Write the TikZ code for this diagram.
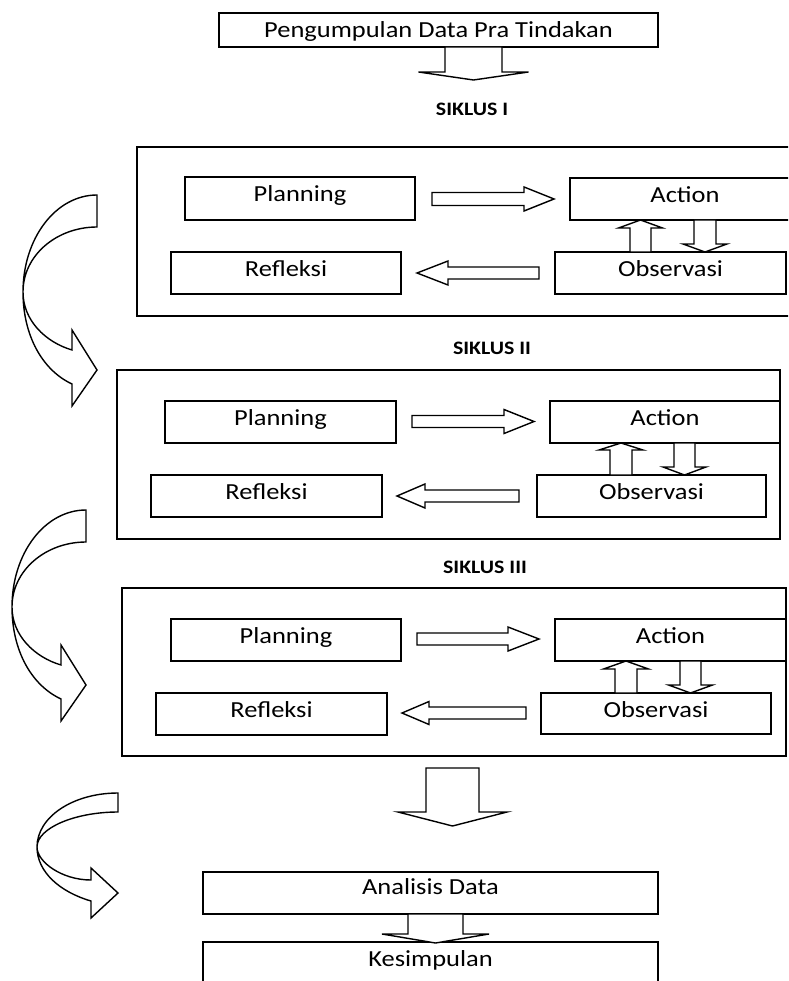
\documentclass[tikz,border=0pt]{standalone}
\usepackage{fontspec}
\newfontfamily\bodyfont[FakeStretch=1.15]{Carlito}
\newcommand{\rarrow}[6]{% xtail xtip y shafthalf headhalf headlen
 \draw[barrow] (#1,{#3-#4}) -- ({#2-#6},{#3-#4}) -- ({#2-#6},{#3-#5}) -- (#2,#3) -- ({#2-#6},{#3+#5}) -- ({#2-#6},{#3+#4}) -- (#1,{#3+#4}) -- cycle;}
\newcommand{\larrow}[6]{% xtip xtail y shafthalf headhalf headlen
 \draw[barrow] (#2,{#3-#4}) -- ({#1+#6},{#3-#4}) -- ({#1+#6},{#3-#5}) -- (#1,#3) -- ({#1+#6},{#3+#5}) -- ({#1+#6},{#3+#4}) -- (#2,{#3+#4}) -- cycle;}
\newcommand{\darrow}[6]{% x ytail ytip shafthalf headhalf headlen
 \draw[barrow] ({#1-#4},#2) -- ({#1-#4},{#3-#6}) -- ({#1-#5},{#3-#6}) -- (#1,#3) -- ({#1+#5},{#3-#6}) -- ({#1+#4},{#3-#6}) -- ({#1+#4},#2) -- cycle;}
\newcommand{\uarrow}[6]{% x ytail ytip shafthalf headhalf headlen
 \draw[barrow] ({#1-#4},#2) -- ({#1-#4},{#3+#6}) -- ({#1-#5},{#3+#6}) -- (#1,#3) -- ({#1+#5},{#3+#6}) -- ({#1+#4},{#3+#6}) -- ({#1+#4},#2) -- cycle;}
\begin{document}
\begin{tikzpicture}[x=1pt,y=-1pt,
  box/.style={draw, line width=1.6pt, inner sep=0pt, font=\bodyfont\fontsize{23}{26}\selectfont, text height=15pt, text depth=8pt, minimum height=42pt},
  frame/.style={draw, line width=1.6pt, inner sep=0pt},
  siklus/.style={font=\bodyfont\bfseries\fontsize{19}{21}\selectfont, inner sep=0pt},
  barrow/.style={draw, line width=1.4pt, line join=miter, fill=white},
  curved/.style={draw, line width=1.4pt, line join=miter, fill=white},
  pics/curvA/.style={code={
    \draw[curved] (97,195) .. controls (56,195) and (23,238) .. (23,292)
      .. controls (23,335) and (42,370) .. (72,384) -- (72,406) -- (97,370) -- (72,330) -- (72,350)
      .. controls (45,342) and (23,320) .. (23,292) .. controls (23,255) and (57,227) .. (97,227) -- cycle;
  }}]
\useasboundingbox (0,0) rectangle (788,981);
\fill[white] (0,0) rectangle (788,981);
\clip (0,0) rectangle (788,981);

% top
\node[box, minimum width=439pt, minimum height=34pt, text depth=0pt] (top) at (438.5,30) {Pengumpulan Data Pra Tindakan};
\darrow{473.5}{47}{80}{28.5}{55}{8}
\node[siklus] (s1) at (472,109.5) {SIKLUS I};

% siklus I
\node[frame, minimum width=658pt, minimum height=169pt] (c1) at (466,231.5) {};
\node[box, minimum width=230pt, minimum height=43pt] (p1) at (300,198.5) {Planning};
\node[box, minimum width=230pt] (a1) at (685,199) {Action};
\node[box, minimum width=230pt] (r1) at (286,273) {Refleksi};
\node[box, minimum width=231pt] (o1) at (670.5,273) {Observasi};
\rarrow{432}{554}{199}{6.5}{12}{30}
\larrow{417}{539}{273}{6}{12}{31}
\uarrow{640.5}{252}{220}{10.5}{22}{8}
\darrow{705}{220}{252}{11}{22}{8}

% siklus II
\node[siklus] (s2) at (492,348) {SIKLUS II};
\node[frame, minimum width=663pt, minimum height=169pt] (c2) at (448.5,454.5) {};
\node[box, minimum width=231pt] (p2) at (280.5,422) {Planning};
\node[box, minimum width=230pt] (a2) at (665,422) {Action};
\node[box, minimum width=231pt] (r2) at (266.5,496) {Refleksi};
\node[box, minimum width=229pt] (o2) at (651.5,496) {Observasi};
\rarrow{412}{534}{421.5}{6}{12}{30}
\larrow{397}{519}{496}{6}{12}{28}
\uarrow{621}{475}{443}{11}{22}{7}
\darrow{684.5}{443}{475}{10.5}{21.5}{8}

% siklus III
\node[siklus] (s3) at (485,567.5) {SIKLUS III};
\node[frame, minimum width=664pt, minimum height=168pt] (c3) at (454,672) {};
\node[box, minimum width=230pt] (p3) at (286,640) {Planning};
\node[box, minimum width=231pt] (a3) at (670.5,640) {Action};
\node[box, minimum width=231pt] (r3) at (271.5,714) {Refleksi};
\node[box, minimum width=230pt, minimum height=41pt] (o3) at (656,713.5) {Observasi};
\rarrow{417}{539}{639}{6}{12}{31}
\larrow{402}{526}{713}{6}{11.5}{27}
\uarrow{626}{693}{661}{11}{22.5}{8}
\darrow{690.5}{661}{693}{10.5}{22}{8}

% bottom
\darrow{452.5}{768}{826}{26.5}{54.5}{14}
\node[box, minimum width=455pt, text depth=13pt] (ana) at (430.5,893) {Analisis Data};
\node[box, minimum width=455pt, minimum height=53pt, text depth=20pt] (kes) at (430.5,968.5) {Kesimpulan};
\darrow{435.5}{914}{943}{27.5}{53.5}{9}

% curved arrows
\pic at (0,0) {curvA};
\pic at (-11,315) {curvA};
\draw[curved] (118,793) .. controls (73,793) and (37,817) .. (37,847)
   .. controls (37,872) and (60,892) .. (91,901) -- (91,918) -- (118,893) -- (91,868) -- (91,880)
   .. controls (62,880) and (37,862) .. (37,847) .. controls (37,828) and (75,812) .. (118,812) -- cycle;
\end{tikzpicture}
\end{document}
